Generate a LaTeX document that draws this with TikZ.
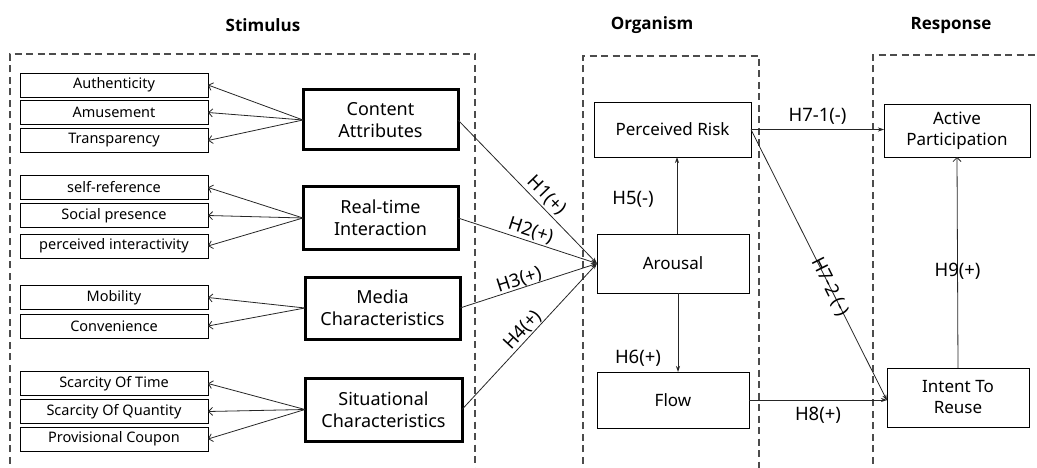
\documentclass[tikz,border=0pt]{standalone}
\usepackage{fontspec}
\setmainfont{Noto Sans}
\newfontfamily\ttlfont{Open Sans}
\usetikzlibrary{arrows.meta,calc}
\begin{document}
\begin{tikzpicture}[x=1pt,y=-1pt,
  every node/.style={inner sep=0pt,outer sep=0pt},
  frame/.style={draw=black!70,line width=1.2pt,dash pattern=on 7pt off 4.5pt},
  small/.style={draw,line width=0.7pt,font=\fontsize{14.5}{16}\selectfont,minimum width=188pt,minimum height=24pt},
  thick/.style={draw,line width=3pt,font=\fontsize{18}{22}\selectfont,align=center},
  mid/.style={draw,line width=0.7pt,font=\fontsize{17}{21}\selectfont,align=center},
  ttl/.style={font=\ttlfont\fontsize{17}{20}\selectfont\bfseries},
  lbl/.style={font=\fontsize{18.5}{21}\selectfont},
  sub/.style={draw=black!85,line width=0.8pt,-{Straight Barb[length=4pt,width=8pt]}},
  hyp/.style={draw=black!85,line width=0.8pt,-{Stealth[length=6pt,width=4pt]}},
  opn/.style={draw=black!85,line width=0.8pt,-{Straight Barb[length=4pt,width=8pt]}}]
\useasboundingbox (0,0) rectangle (1037,468);
% titles
\node[ttl] (t1) at (263,25) {Stimulus};
\node[ttl] (t2) at (652,25) {Organism};
\node[ttl] (t3) at (951,25) {Response};
% frames
\draw[frame] (10,475) -- (10,54) -- (475,54) -- (475,475);
\draw[frame] (583,475) -- (583,56) -- (759,56) -- (759,475);
\draw[frame] (873,475) -- (873,55) -- (1045,55);
% small boxes
\node[small] (auth) at (114,85) {Authenticity};
\node[small] (amus) at (114,112.5) {Amusement};
\node[small] (tran) at (114,140.5) {Transparency};
\node[small] (self) at (114,187.5) {self-reference};
\node[small] (soc) at (114,215.5) {Social presence};
\node[small] (pint) at (114,246) {perceived interactivity};
\node[small] (mob) at (114,297.5) {Mobility};
\node[small] (conv) at (114,326) {Convenience};
\node[small] (sot) at (114,383.5) {Scarcity Of Time};
\node[small] (soq) at (114,411.5) {Scarcity Of Quantity};
\node[small] (coup) at (114,439) {Provisional Coupon};
% thick boxes
\node[thick,minimum width=155pt,minimum height=60pt] (ca) at (380.5,120) {Content\\Attributes};
\node[thick,minimum width=155pt,minimum height=62pt] (rt) at (380.5,218) {Real-time\\Interaction};
\node[thick,minimum width=155pt,minimum height=62pt] (mc) at (382.5,308) {Media\\Characteristics};
\node[thick,minimum width=157pt,minimum height=63pt] (sc) at (383.5,409.5) {Situational\\Characteristics};
% organism
\node[mid,minimum width=157pt,minimum height=55pt] (pr) at (672.5,129.5) {Perceived Risk};
\node[mid,minimum width=152pt,minimum height=59pt] (ar) at (673,263.5) {Arousal};
\node[mid,minimum width=152pt,minimum height=56pt] (fl) at (673,400) {Flow};
% response
\node[mid,minimum width=146pt,minimum height=53pt] (ap) at (957,130.5) {Active\\Participation};
\node[mid,minimum width=142pt,minimum height=59pt] (ir) at (958,397.5) {Intent To\\Reuse};
% sub arrows
\foreach \s in {auth,amus,tran} \draw[sub] (ca.west) -- (\s.east);
\foreach \s in {self,soc,pint} \draw[sub] (rt.west) -- (\s.east);
\foreach \s in {mob,conv} \draw[sub] (mc.west) -- (\s.east);
\foreach \s in {sot,soq,coup} \draw[sub] (sc.west) -- (\s.east);
% hypotheses
\draw[hyp] (ca.east) -- node[lbl,sloped,pos=0.58,above=3pt] {H1(+)} (ar.west);
\draw[hyp] (rt.east) -- node[lbl,sloped,pos=0.5,above=2pt] {H2(+)} (ar.west);
\draw[hyp] (mc.east) -- node[lbl,sloped,pos=0.45,above=0pt] {H3(+)} (ar.west);
\draw[hyp] (sc.east) -- node[lbl,sloped,pos=0.5,above=1pt] {H4(+)} (ar.west);
\coordinate (a5) at ([xshift=4pt]ar.north);
\coordinate (a6) at ([xshift=5pt]ar.south);
\draw[hyp] (a5) -- (a5 |- pr.south);
\draw[hyp] (a6) -- (a6 |- fl.north);
\node[lbl] (h5) at (633,199) {H5(-)};
\node[lbl] (h6) at (638,358) {H6(+)};
\draw[hyp] (pr.east) -- node[lbl,above=5pt] {H7-1(-)} (pr.east -| ap.west);
\draw[hyp] (pr.east) -- node[lbl,sloped,pos=0.58] {H7-2 (-)} ([yshift=-3pt]ir.west);
\draw[hyp] (fl.east) -- node[lbl,below=7pt] {H8(+)} (fl.east -| ir.west);
\draw[opn] (ir.north) -- node[lbl,pos=0.46] {H9(+)} (ap.south);
\end{tikzpicture}
\end{document}
